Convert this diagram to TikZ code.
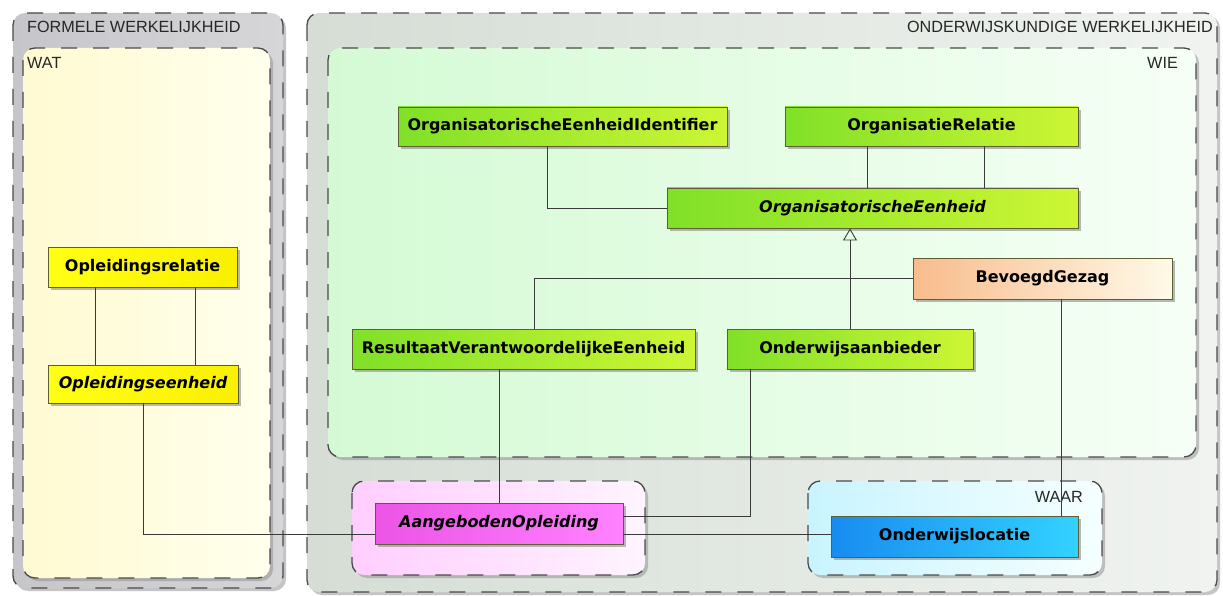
\documentclass[tikz,border=0pt]{standalone}
\usepackage{fontspec}
\setmainfont{Liberation Sans}
\newfontfamily\boxfont{DejaVu Sans}
\usetikzlibrary{shadows,arrows.meta,calc}
\definecolor{edgec}{HTML}{3A3A3A}
\definecolor{nborder}{HTML}{5E5E34}
\definecolor{frameline}{HTML}{4A4A4A}
\tikzset{
  frame/.style={draw=frameline, line width=1.3pt, dash pattern=on 16pt off 16pt, rounded corners=12pt,
    drop shadow={shadow xshift=3pt, shadow yshift=-3pt, fill=black!45, opacity=.5}},
  cls/.style={draw=nborder, line width=0.9pt, inner sep=0pt,
    font=\boxfont\bfseries\fontsize{16}{18}\selectfont,
    drop shadow={shadow xshift=3pt, shadow yshift=-3pt, fill=black!50, opacity=.55}},
  abs/.style={cls, font=\boxfont\bfseries\itshape\fontsize{16}{18}\selectfont},
  greenc/.style={left color={rgb,255:red,128;green,224;blue,40}, right color={rgb,255:red,205;green,246;blue,52}},
  yellowc/.style={left color={rgb,255:red,255;green,255;blue,20}, right color={rgb,255:red,250;green,240;blue,0}},
  orangec/.style={left color={rgb,255:red,248;green,188;blue,140}, right color={rgb,255:red,255;green,250;blue,232}},
  pinkc/.style={left color={rgb,255:red,236;green,84;blue,230}, right color={rgb,255:red,255;green,130;blue,255}},
  bluec/.style={left color={rgb,255:red,24;green,140;blue,240}, right color={rgb,255:red,50;green,210;blue,255}},
  conn/.style={draw=edgec, line width=0.9pt},
  lbl/.style={font=\fontsize{16.2}{18}\selectfont, inner sep=0pt, text=black!85}
}
\begin{document}
\begin{tikzpicture}[x=1pt,y=-1pt]
\useasboundingbox[fill=white] (0,0) rectangle (1223,596);
% outer frames
\path[frame, left color={rgb,255:red,198;green,198;blue,202}, right color={rgb,255:red,214;green,214;blue,217}] (13,13) rectangle (283,588);
\path[frame, left color={rgb,255:red,213;green,221;blue,213}, right color={rgb,255:red,240;green,243;blue,240}] (307,13) rectangle (1217,592);
% inner frames
\path[frame, left color={rgb,255:red,255;green,250;blue,210}, right color={rgb,255:red,255;green,255;blue,236}] (23,48) rectangle (270,578);
\path[frame, left color={rgb,255:red,212;green,250;blue,212}, right color={rgb,255:red,246;green,255;blue,246}] (328,48) rectangle (1196,457);
\path[frame, left color={rgb,255:red,255;green,206;blue,255}, right color={rgb,255:red,255;green,244;blue,255}] (352,481) rectangle (645,575);
\path[frame, left color={rgb,255:red,200;green,244;blue,255}, right color={rgb,255:red,246;green,255;blue,255}] (808,481) rectangle (1102,575);
% frame labels
\node[lbl, anchor=base west] (lf) at (27,33) {FORMELE WERKELIJKHEID};
\node[lbl, anchor=base west] (lwat) at (27,69) {WAT};
\node[lbl, anchor=base east] (lo) at (1213,33) {ONDERWIJSKUNDIGE WERKELIJKHEID};
\node[lbl, anchor=base east] (lwie) at (1178,69) {WIE};
\node[lbl, anchor=base east] (lwaar) at (1083,502) {WAAR};
% class nodes
\node[cls, greenc, minimum width=329pt, minimum height=39pt] (oei) at (562.5,126.5) {OrganisatorischeEenheidIdentifier};
\node[cls, greenc, minimum width=293pt, minimum height=39pt] (or) at (931.5,126.5) {OrganisatieRelatie};
\node[abs, greenc, minimum width=411pt, minimum height=40pt] (oe) at (872.5,208) {OrganisatorischeEenheid};
\node[cls, orangec, minimum width=259pt, minimum height=41pt] (bg) at (1042.5,278.5) {BevoegdGezag};
\node[cls, greenc, minimum width=343pt, minimum height=40pt] (rve) at (523.5,349) {ResultaatVerantwoordelijkeEenheid};
\node[cls, greenc, minimum width=246pt, minimum height=40pt] (oa) at (850,349) {Onderwijsaanbieder};
\node[cls, yellowc, minimum width=189pt, minimum height=40pt] (olr) at (142.5,267) {Opleidingsrelatie};
\node[abs, yellowc, minimum width=190pt, minimum height=38pt] (ole) at (143,384) {Opleidingseenheid};
\node[abs, pinkc, minimum width=248pt, minimum height=41pt] (ao) at (499,523.5) {AangebodenOpleiding};
\node[cls, bluec, minimum width=247pt, minimum height=41pt] (ol) at (954.5,536.5) {Onderwijslocatie};
% connectors
\draw[conn] ([xshift=-15.5pt]oei.south) |- (oe.west);
\draw[conn] ([xshift=-64.5pt]or.south) -- ([xshift=-64.5pt]or.south |- oe.north);
\draw[conn] ([xshift=52.5pt]or.south) -- ([xshift=52.5pt]or.south |- oe.north);
\draw[conn, -{Triangle[open, length=12pt, width=14pt]}] (oa.north) -- (oa.north |- oe.south);
\draw[conn] (bg.west) -| ([xshift=10.5pt]rve.north);
\draw[conn] ([xshift=18.5pt]bg.south) -- ([xshift=18.5pt]bg.south |- ol.north);
\draw[conn] ([xshift=-47.5pt]olr.south) -- ([xshift=-47.5pt]olr.south |- ole.north);
\draw[conn] ([xshift=52.5pt]olr.south) -- ([xshift=52.5pt]olr.south |- ole.north);
\draw[conn] (ole.south) |- ([yshift=-10.5pt]ao.west);
\draw[conn] ([yshift=-10.5pt]ao.east) -- ([yshift=-10.5pt]ao.east -| ol.west);
\draw[conn] ([xshift=-24.5pt]rve.south) -- ([xshift=-24.5pt]rve.south |- ao.north);
\draw[conn] ([xshift=-100pt]oa.south) |- ([yshift=7.5pt]ao.east);
\end{tikzpicture}
\end{document}
